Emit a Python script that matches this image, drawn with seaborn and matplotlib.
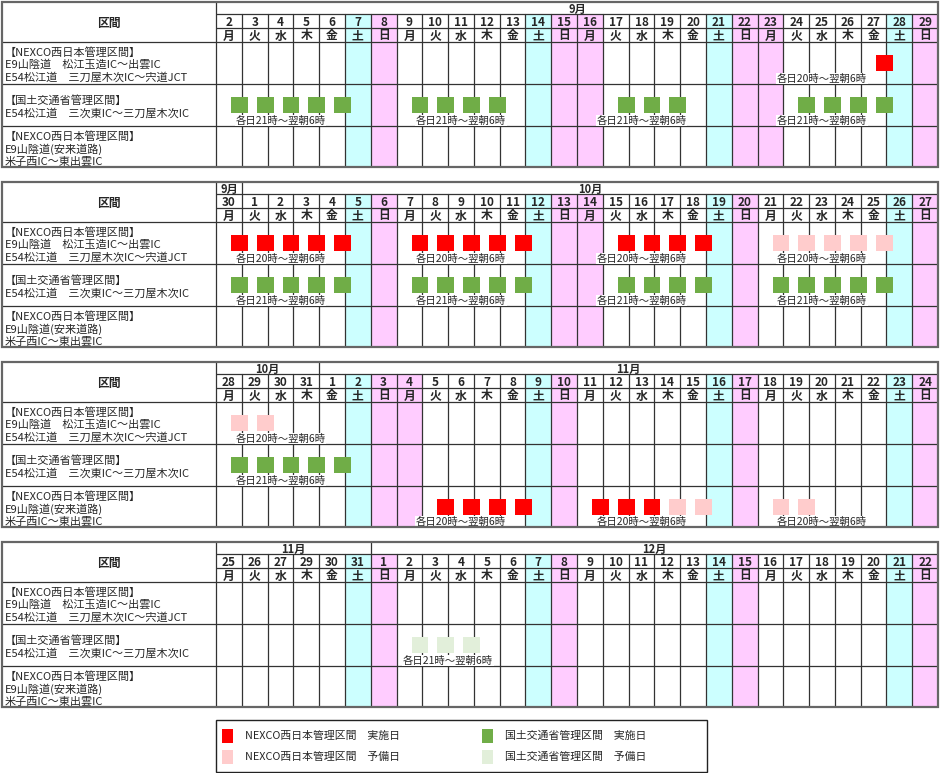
import matplotlib
matplotlib.use("Agg")
import matplotlib.pyplot as plt
from matplotlib.patches import Rectangle
import numpy as np
import pandas as pd
import seaborn as sns

# ---------------- data ----------------
header_label = "区間"
section_labels = [
    ["【NEXCO西日本管理区間】", "E9山陰道　松江玉造IC～出雲IC", "E54松江道　三刀屋木次IC～宍道JCT"],
    ["【国土交通省管理区間】", "E54松江道　三次東IC～三刀屋木次IC"],
    ["【NEXCO西日本管理区間】", "E9山陰道(安来道路)", "米子西IC～東出雲IC"],
]
note_20 = "各日20時～翌朝6時"
note_21 = "各日21時～翌朝6時"

# block 1 : 2019-09-02 .. 09-29
b1_days = [2, 3, 4, 5, 6, 7, 8, 9, 10, 11, 12, 13, 14, 15, 16, 17, 18, 19, 20, 21, 22, 23, 24, 25, 26, 27, 28, 29]
b1_weekdays = list("月火水木金土日月火水木金土日月火水木金土日月火水木金土日")
b1_holidays = [16, 23]
b1_months = [("9月", 2, 29)]
b1_nexco1_run = [27]
b1_mlit_run = [2, 3, 4, 5, 6, 9, 10, 11, 12, 17, 18, 19, 24, 25, 26, 27]
b1_notes = [(0, note_20, 23, 27),
            (1, note_21, 2, 6), (1, note_21, 9, 13), (1, note_21, 17, 19), (1, note_21, 23, 27)]

# block 2 : 09-30 .. 10-27
b2_days = [30, 1, 2, 3, 4, 5, 6, 7, 8, 9, 10, 11, 12, 13, 14, 15, 16, 17, 18, 19, 20, 21, 22, 23, 24, 25, 26, 27]
b2_weekdays = list("月火水木金土日月火水木金土日月火水木金土日月火水木金土日")
b2_holidays = [14]
b2_months = [("9月", 30, 30), ("10月", 1, 27)]
b2_nexco1_run = [30, 1, 2, 3, 4, 7, 8, 9, 10, 11, 15, 16, 17, 18]
b2_nexco1_res = [21, 22, 23, 24, 25]
b2_mlit_run = [30, 1, 2, 3, 4, 7, 8, 9, 10, 11, 15, 16, 17, 18, 21, 22, 23, 24, 25]
b2_notes = [(0, note_20, 30, 4), (0, note_20, 7, 11), (0, note_20, 15, 17), (0, note_20, 21, 25),
            (1, note_21, 30, 4), (1, note_21, 7, 11), (1, note_21, 15, 17), (1, note_21, 21, 25)]

# block 3 : 10-28 .. 11-24
b3_days = [28, 29, 30, 31, 1, 2, 3, 4, 5, 6, 7, 8, 9, 10, 11, 12, 13, 14, 15, 16, 17, 18, 19, 20, 21, 22, 23, 24]
b3_weekdays = list("月火水木金土日月火水木金土日月火水木金土日月火水木金土日")
b3_holidays = [4]
b3_months = [("10月", 28, 31), ("11月", 1, 24)]
b3_nexco1_res = [28, 29]
b3_mlit_run = [28, 29, 30, 31, 1]
b3_nexco2_run = [5, 6, 7, 8, 11, 12, 13]
b3_nexco2_res = [14, 15, 18, 19]
b3_notes = [(0, note_20, 28, 1), (1, note_21, 28, 1),
            (2, note_20, 4, 8), (2, note_20, 12, 14), (2, note_20, 18, 22)]

# block 4 : 11-25 .. 12-22 (labels as printed)
b4_days = [25, 26, 27, 29, 30, 31, 1, 2, 3, 4, 5, 6, 7, 8, 9, 10, 11, 12, 13, 14, 15, 16, 17, 18, 19, 20, 21, 22]
b4_weekdays = list("月火水木金土日月火水木金土日月火水木金土日月火水木金土日")
b4_holidays = []
b4_months = [("11月", 25, 31), ("12月", 1, 22)]
b4_mlit_res = [2, 3, 4]
b4_notes = [(1, note_21, 2, 5)]

legend_labels = ["NEXCO西日本管理区間　実施日", "NEXCO西日本管理区間　予備日",
                 "国土交通省管理区間　実施日", "国土交通省管理区間　予備日"]
legend_kinds = ["nexco_run", "nexco_res", "mlit_run", "mlit_res"]

# ---------------- style ----------------
sns.set_theme(style="white")
plt.rcParams['font.family'] = ['Noto Sans CJK JP', 'DejaVu Sans']

palette = {"nexco_run": "#FF0000", "nexco_res": "#FFCCCC",
           "mlit_run": "#70AD47", "mlit_res": "#E2EFDA"}
SAT_C = "#CCFFFF"
HOL_C = "#FFCCFF"
LINE_C = "#333333"
LW_IN = 0.9

W, H = 940, 773
LEFT, CAL_L, CAL_R = 2, 216, 938
NCOL = 28
CW = (CAL_R - CAL_L) / NCOL
LWC = (CAL_L - LEFT) / CW
BH = 165
ROWB = [0, 12, 26, 40, 82, 124, 165]
SQ_OFF = 15 / CW
SQ_W = 17 / CW

fig = plt.figure(figsize=(W / 100, H / 100), dpi=100)


def draw_block(top, days, weekdays, holidays, months, marks, notes):
    ax = fig.add_axes([LEFT / W, 1 - (top + BH) / H, (CAL_R - LEFT) / W, BH / H])
    idx = {d: i for i, d in enumerate(days)}
    n = len(days)
    # weekend / holiday columns
    for i, (d, w) in enumerate(zip(days, weekdays)):
        if w == "土":
            c = SAT_C
        elif w == "日" or d in holidays:
            c = HOL_C
        else:
            continue
        ax.add_patch(Rectangle((i, ROWB[1]), 1, BH - ROWB[1], fc=c, ec="none", zorder=0))
    # grid lines
    for y in ROWB[1:3]:
        ax.plot([0, n], [y, y], color=LINE_C, lw=LW_IN, zorder=2, solid_capstyle="butt")
    for y in ROWB[3:6]:
        ax.plot([-LWC, n], [y, y], color=LINE_C, lw=LW_IN, zorder=2, solid_capstyle="butt")
    ax.plot([0, 0], [0, BH], color=LINE_C, lw=LW_IN, zorder=2)
    for i in range(1, n):
        ax.plot([i, i], [ROWB[1], BH], color=LINE_C, lw=LW_IN, zorder=2)
    # months
    for lab, d0, d1 in months:
        i0, i1 = idx[d0], idx[d1] + 1
        if i0 > 0:
            ax.plot([i0, i0], [0, ROWB[1]], color=LINE_C, lw=LW_IN, zorder=2)
        ax.text((i0 + i1) / 2, 7, lab, ha="center", va="center", fontsize=8,
                fontweight="bold", zorder=5)
    # day numbers and weekdays
    for i, (d, w) in enumerate(zip(days, weekdays)):
        ax.text(i + 0.5, 20.5, str(d), ha="center", va="center", fontsize=8.5,
                fontweight="bold", zorder=5)
        ax.text(i + 0.5, 34, w, ha="center", va="center", fontsize=8.5,
                fontweight="bold", zorder=5)
    # left column
    ax.text(-LWC / 2, 21, header_label, ha="center", va="center", fontsize=8.5,
            fontweight="bold", zorder=5)
    for r, lines in enumerate(section_labels):
        rt = ROWB[3 + r]
        c = rt + 23
        for k, s in enumerate(lines):
            y = c + (k - (len(lines) - 1) / 2) * 12.5
            ax.text(-LWC + 3 / CW, y, s, ha="left", va="center", fontsize=8, zorder=5)
    # marks
    recs = []
    for row, kind, dl in marks:
        for d in dl:
            recs.append((row, idx[d], kind))
    if recs:
        df = pd.DataFrame(recs, columns=["row", "col", "kind"])
        df["x"] = df["col"] + SQ_OFF + SQ_W / 2
        df["y"] = [ROWB[3 + r] + 21 for r in df["row"]]
        # white backing band behind each run of consecutive squares
        for row, g in df.groupby("row"):
            cols = sorted(g["col"].unique())
            start = prev = cols[0]
            runs = []
            for c in cols[1:]:
                if c == prev + 1:
                    prev = c
                else:
                    runs.append((start, prev))
                    start = prev = c
            runs.append((start, prev))
            rt = ROWB[3 + row]
            for a, b in runs:
                ax.add_patch(Rectangle((a + SQ_OFF, rt + 13), b - a + SQ_W, 16,
                                       fc="white", ec="none", zorder=3))
        sns.scatterplot(data=df, x="x", y="y", hue="kind", palette=palette,
                        marker="s", s=145, linewidth=0, legend=False, ax=ax, zorder=4)
    # notes
    for row, txt, d0, d1 in notes:
        x = (idx[d0] + idx[d1] + 1) / 2
        y = ROWB[4 + row] - 5.5
        ax.text(x, y, txt, ha="center", va="center", fontsize=7.5, zorder=5,
                bbox=dict(facecolor="white", edgecolor="none", pad=0.6))
    # outer border
    ax.add_patch(Rectangle((-LWC, 0), LWC + n, BH, fill=False, ec="#666666", lw=1.6,
                           zorder=6, clip_on=False))
    ax.set_xlim(-LWC, n)
    ax.set_ylim(BH, 0)
    ax.set_axis_off()


draw_block(2, b1_days, b1_weekdays, b1_holidays, b1_months,
           [(0, "nexco_run", b1_nexco1_run), (1, "mlit_run", b1_mlit_run)], b1_notes)
draw_block(182, b2_days, b2_weekdays, b2_holidays, b2_months,
           [(0, "nexco_run", b2_nexco1_run), (0, "nexco_res", b2_nexco1_res),
            (1, "mlit_run", b2_mlit_run)], b2_notes)
draw_block(362, b3_days, b3_weekdays, b3_holidays, b3_months,
           [(0, "nexco_res", b3_nexco1_res), (1, "mlit_run", b3_mlit_run),
            (2, "nexco_run", b3_nexco2_run), (2, "nexco_res", b3_nexco2_res)], b3_notes)
draw_block(542, b4_days, b4_weekdays, b4_holidays, b4_months,
           [(1, "mlit_res", b4_mlit_res)], b4_notes)

# legend
lax = fig.add_axes([0, 0, 1, 1])
lax.set_xlim(0, W)
lax.set_ylim(H, 0)
lax.set_axis_off()
lax.add_patch(Rectangle((216, 720), 491, 51.5, fill=False, ec="#222222", lw=1.0))
for k, (lab, kind) in enumerate(zip(legend_labels, legend_kinds)):
    colx = 222 if k < 2 else 482
    rowy = 736 if k % 2 == 0 else 757
    lax.add_patch(Rectangle((colx, rowy - 7), 11, 14, fc=palette[kind], ec="none"))
    lax.text(colx + 23, rowy, lab, ha="left", va="center", fontsize=7.8)

fig.savefig("out.png", dpi=100)
